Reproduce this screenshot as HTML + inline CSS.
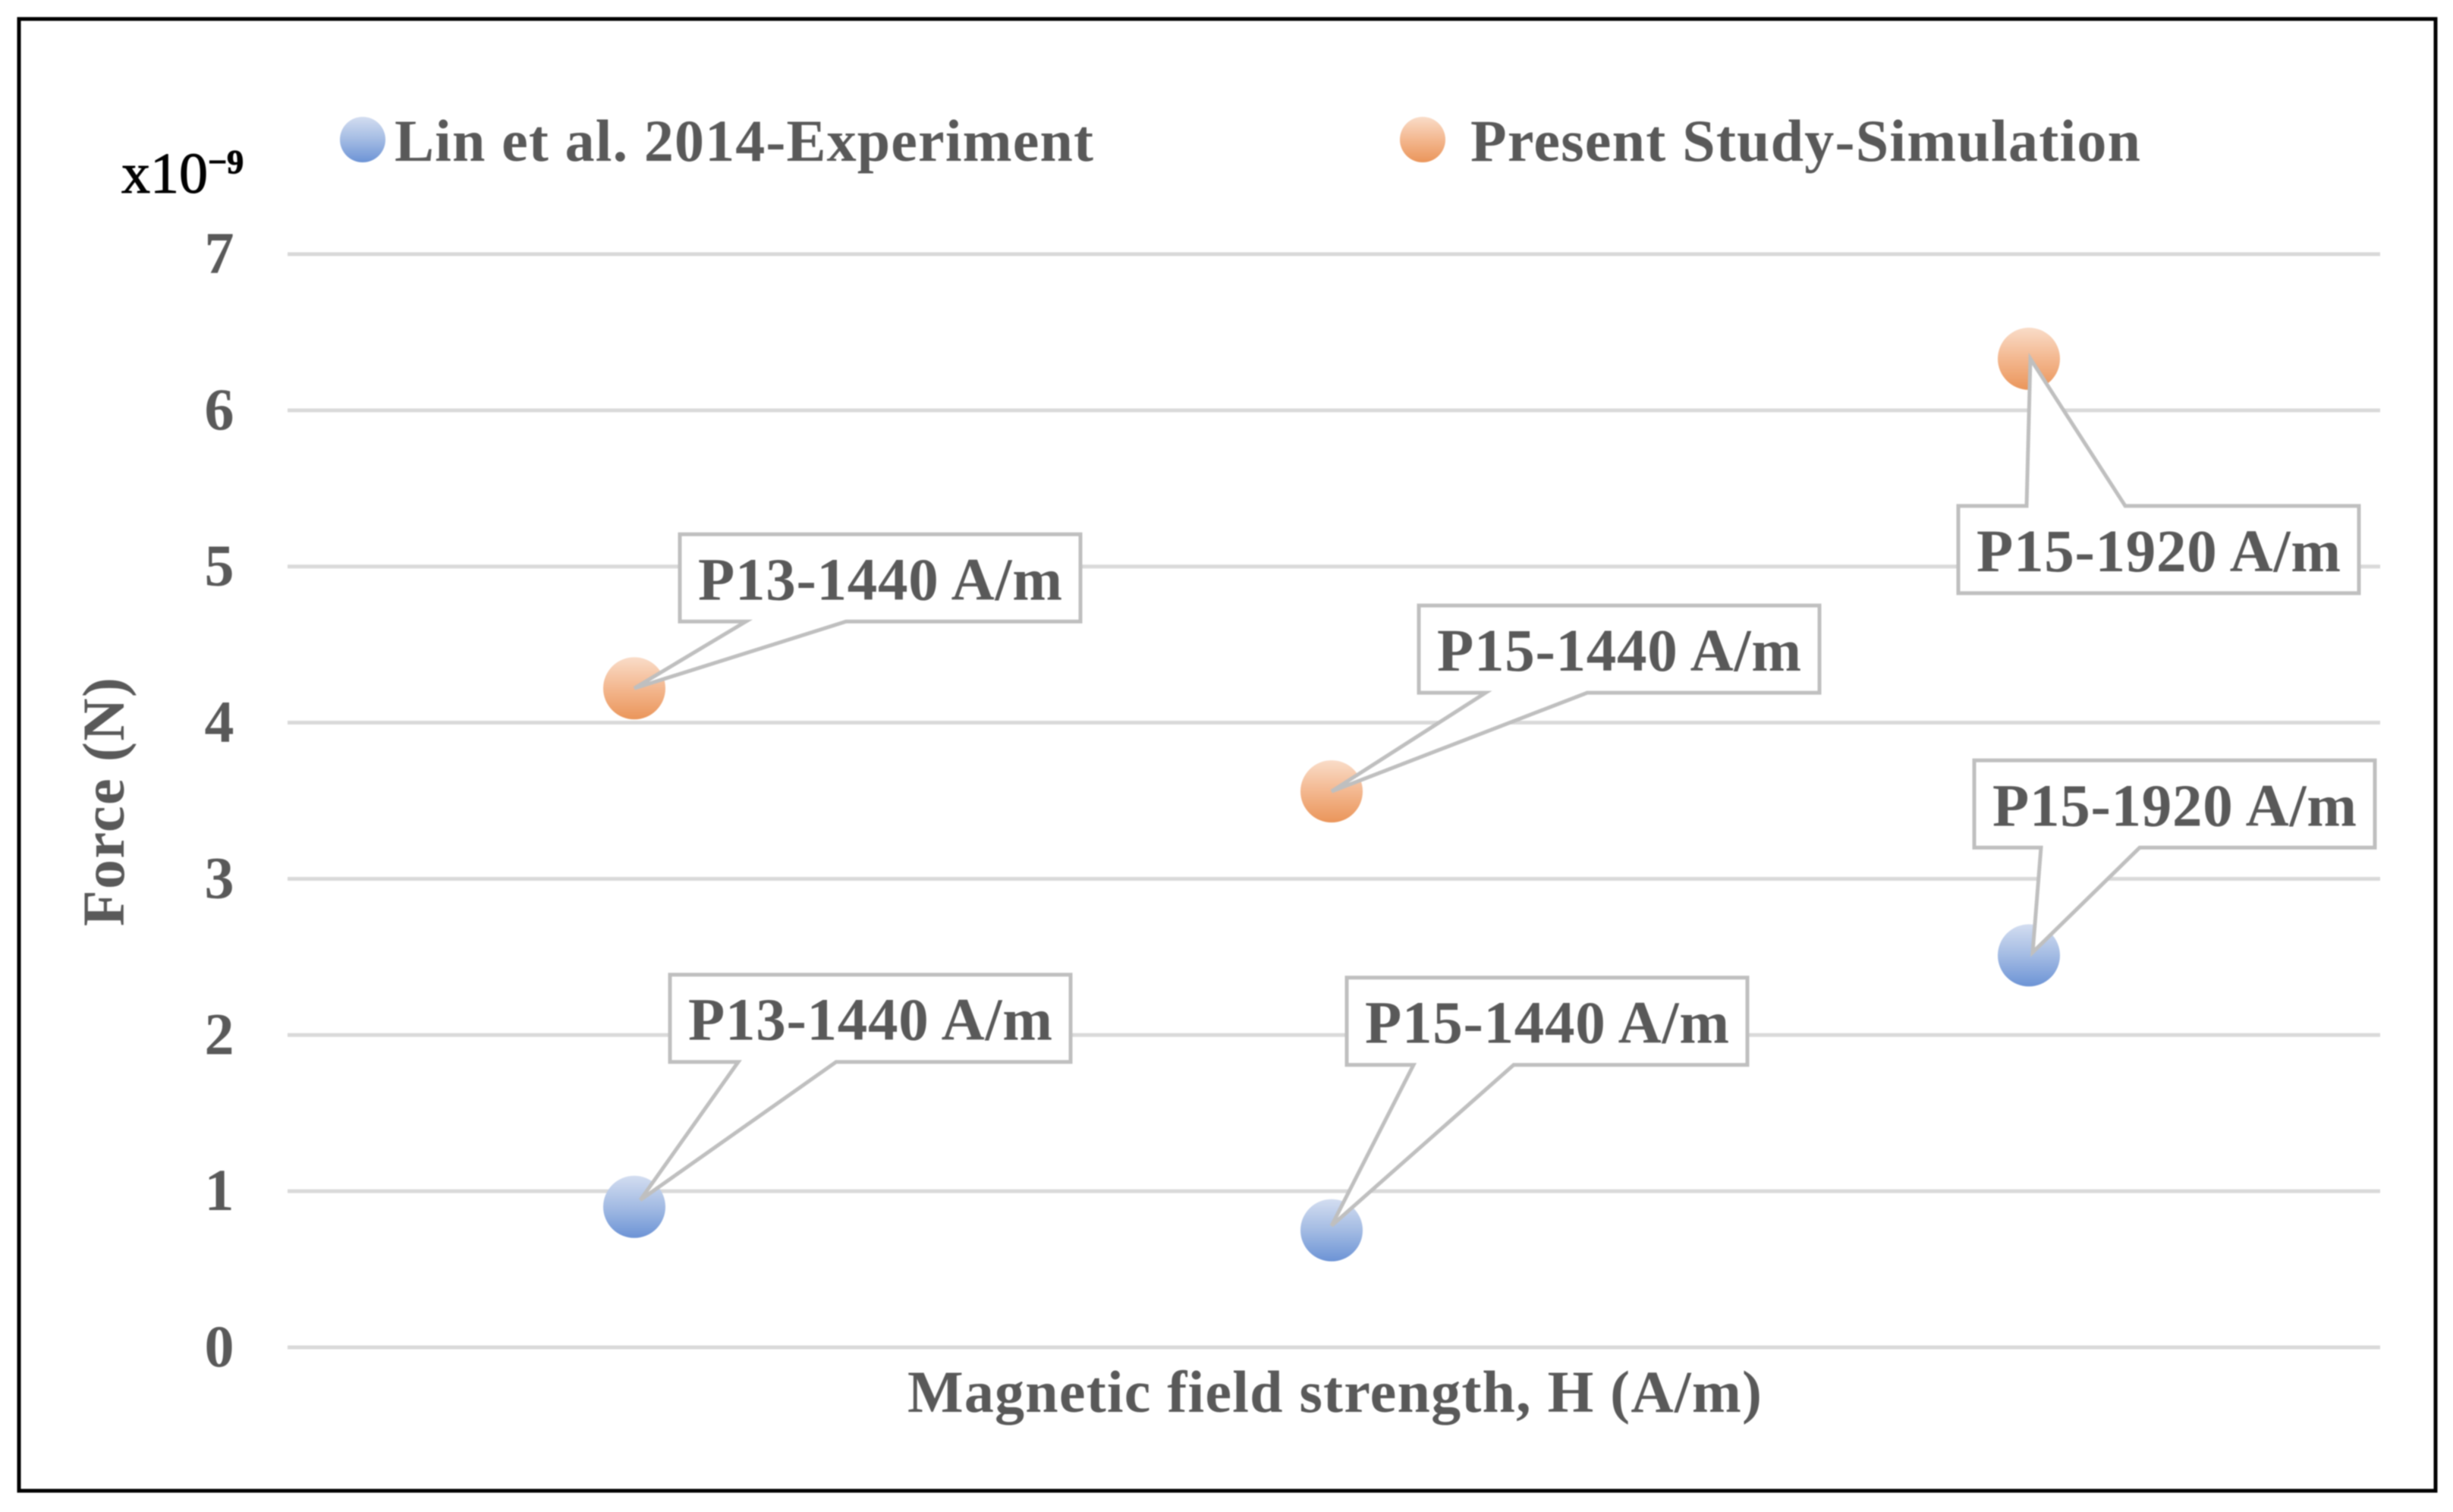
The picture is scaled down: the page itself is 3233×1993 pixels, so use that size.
<!DOCTYPE html>
<html lang="en">
<head>
<meta charset="utf-8">
<title>Force vs magnetic field strength</title>
<style>
  html, body { margin: 0; padding: 0; background: #fff; }
  svg { display: block; filter: blur(0.9px); }
  text { font-family: "Liberation Serif", serif; font-weight: 700; fill: #595959; }
</style>
</head>
<body>
<svg id="chart" xmlns="http://www.w3.org/2000/svg" width="3233" height="1993" viewBox="0 0 3233 1993">
  <defs>
    <linearGradient id="blue-ball" x1="0" y1="0" x2="0" y2="1">
      <stop offset="0" stop-color="#d3ddf0"/>
      <stop offset="0.5" stop-color="#a3bbe3"/>
      <stop offset="1" stop-color="#6c93d5"/>
    </linearGradient>
    <linearGradient id="orange-ball" x1="0" y1="0" x2="0" y2="1">
      <stop offset="0" stop-color="#f9dcc8"/>
      <stop offset="0.5" stop-color="#f3b78f"/>
      <stop offset="1" stop-color="#ea955a"/>
    </linearGradient>
  </defs>
  <rect x="0" y="0" width="3233" height="1993" fill="#ffffff"/>
  <rect x="25" y="25" width="3185" height="1940" fill="none" stroke="#000000" stroke-width="5"/>
  <g id="grid"></g>
  <g id="yticks"></g>
  <g id="marks"></g>
  <g id="callouts"></g>

  <text x="160" y="254" font-size="76" style="font-weight:400;fill:#000;stroke:#000;stroke-width:1">x10<tspan dy="-26" font-size="44" style="font-weight:700">−9</tspan></text>

  <g>
    <ellipse cx="478" cy="184" rx="30" ry="30" fill="url(#blue-ball)"/>
    <text x="520" y="212" font-size="78" textLength="921" lengthAdjust="spacing">Lin et al. 2014-Experiment</text>
    <ellipse cx="1875" cy="184" rx="30" ry="30" fill="url(#orange-ball)"/>
    <text x="1938" y="212" font-size="78" textLength="883" lengthAdjust="spacing">Present Study-Simulation</text>
  </g>

  <text x="1196" y="1861" font-size="78" textLength="1126" lengthAdjust="spacing">Magnetic field strength, H (A/m)</text>
  <text transform="translate(163,1221) rotate(-90)" x="0" y="0" font-size="78" textLength="328" lengthAdjust="spacing">Force (N)</text>
</svg>

<script>
const categories = ["P13-1440 A/m", "P15-1440 A/m", "P15-1920 A/m"];
const experimentValues = [0.90, 0.75, 2.51];
const simulationValues = [4.22, 3.56, 6.33];
const tickLabels = ["0", "1", "2", "3", "4", "5", "6", "7"];

const NS = "http://www.w3.org/2000/svg";

function xScale(i) {
  const left = 376.5, band = 919;
  return left + band * (i + 0.5);
}
function yScale(v) {
  const y0 = 1776, perUnit = 205.86;
  return y0 - perUnit * v;
}

function make(tag, attrs, parent) {
  const el = document.createElementNS(NS, tag);
  for (const k in attrs) el.setAttribute(k, attrs[k]);
  parent.appendChild(el);
  return el;
}

const grid = document.getElementById("grid");
const yticks = document.getElementById("yticks");
tickLabels.forEach(function (label) {
  const v = Number(label);
  const line = make("line", { x1: 379, x2: 3137, y1: yScale(v), y2: yScale(v), stroke: "#d9d9d9", "stroke-width": 5 }, grid);
  
  
  const t = make("text", { x: 289, y: yScale(v) + 25, "font-size": 78, "text-anchor": "middle" }, yticks);
  
  
  t.textContent = label;
});

const marks = document.getElementById("marks");
function drawMarkers(values, fill) {
  values.forEach(function (v, i) {
    const m = make("ellipse", { cx: xScale(i), cy: yScale(v), rx: 41, ry: 41, fill: fill }, marks);
    
    
  });
}
drawMarkers(experimentValues, "url(#blue-ball)");
drawMarkers(simulationValues, "url(#orange-ball)");

/* Callout placement relative to its marker: box offset, pointer base offsets from box left, tip offset */
const experimentCallouts = [
  { dx: 47, dy: -306, a: 90, b: 219, tx: 8, ty: -9, below: false },
  { dx: 20, dy: -333, a: 88, b: 220, tx: 0, ty: -6, below: false },
  { dx: -72, dy: -257, a: 88, b: 218, tx: 5, ty: -4, below: false }
];
const simulationCallouts = [
  { dx: 60, dy: -203, a: 87, b: 219, tx: 0, ty: 0, below: false },
  { dx: 115, dy: -245, a: 88, b: 222, tx: 0, ty: 0, below: false },
  { dx: -93, dy: 194, a: 90, b: 220, tx: 2, ty: 0, below: true }
];

const callouts = document.getElementById("callouts");
function drawCallouts(values, placements) {
  const w = 528, h = 115;
  values.forEach(function (v, i) {
    const cx = xScale(i), cy = yScale(v), p = placements[i];
    const x0 = cx + p.dx, y0 = cy + p.dy, x1 = x0 + w, y1 = y0 + h;
    const tipX = cx + p.tx, tipY = cy + p.ty;
    const a = x0 + p.a, b = x0 + p.b;
    const pts = p.below
      ? [[x0, y0], [a, y0], [tipX, tipY], [b, y0], [x1, y0], [x1, y1], [x0, y1]]
      : [[x0, y0], [x1, y0], [x1, y1], [b, y1], [tipX, tipY], [a, y1], [x0, y1]];
    const shape = make("polygon", {
      points: pts.map(function (q) { return q.join(","); }).join(" "),
      fill: "#ffffff", stroke: "#bfbfbf", "stroke-width": 5, "stroke-linejoin": "miter"
    }, callouts);
    
    
    const t = make("text", {
      x: x0 + w / 2 - 240, y: y0 + 86, "font-size": 79,
      textLength: 480, lengthAdjust: "spacing"
    }, callouts);
    
    
    t.textContent = categories[i];
  });
}
drawCallouts(experimentValues, experimentCallouts);
drawCallouts(simulationValues, simulationCallouts);
</script>
</body>
</html>
